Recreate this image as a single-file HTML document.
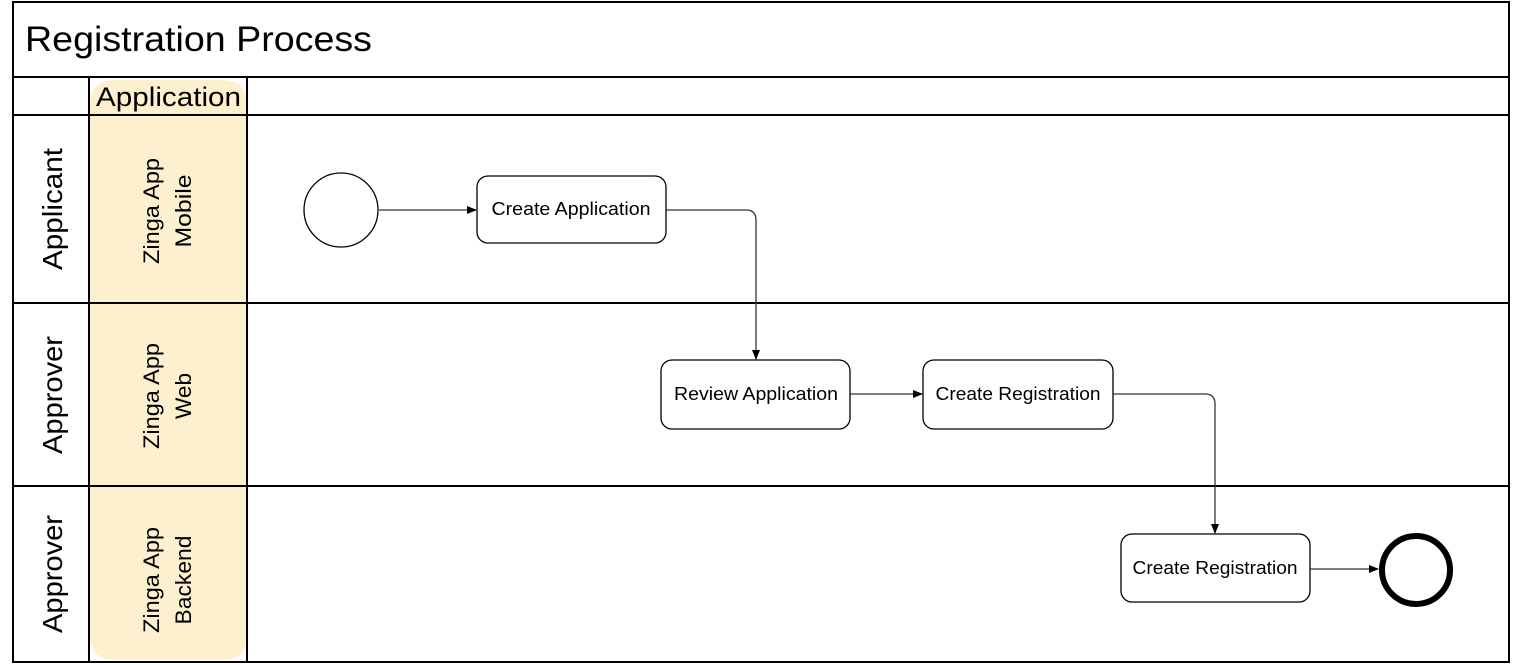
<!DOCTYPE html>
<html><head><style>html,body{margin:0;padding:0;background:#fff;width:1514px;height:665px;overflow:hidden}</style></head>
<body>
<svg width="1514" height="665" viewBox="0 0 1514 665" xmlns="http://www.w3.org/2000/svg" font-family="'Liberation Sans', sans-serif">
<defs><marker id="a" markerWidth="10" markerHeight="10" refX="9" refY="5" orient="auto" markerUnits="userSpaceOnUse"><path d="M0,1 L10,5 L0,9 z" fill="#000"/></marker></defs>
<rect x="0" y="0" width="1514" height="665" fill="#fff"/>
<path d="M90,105 Q90,80 115,80 L222,80 Q247,80 247,105 L247,635 Q247,660 222,660 L115,660 Q90,660 90,635 Z" fill="#fdf0cf"/>
<g stroke="#000" stroke-width="2" fill="none">
<rect x="13" y="2" width="1496" height="660"/>
<line x1="13" y1="77" x2="1509" y2="77"/>
<line x1="13" y1="115" x2="1509" y2="115"/>
<line x1="13" y1="303" x2="1509" y2="303"/>
<line x1="13" y1="486" x2="1509" y2="486"/>
<line x1="89" y1="77" x2="89" y2="662"/>
<line x1="247" y1="77" x2="247" y2="662"/>
</g>
<text x="25" y="51" font-size="35" textLength="347" lengthAdjust="spacingAndGlyphs">Registration Process</text>
<text x="96" y="106" font-size="27" textLength="145" lengthAdjust="spacingAndGlyphs">Application</text>
<g font-size="28" text-anchor="middle">
<text transform="translate(62,209) rotate(-90)" textLength="122" lengthAdjust="spacingAndGlyphs">Applicant</text>
<text transform="translate(62,395) rotate(-90)" textLength="118" lengthAdjust="spacingAndGlyphs">Approver</text>
<text transform="translate(62,574) rotate(-90)" textLength="118" lengthAdjust="spacingAndGlyphs">Approver</text>
</g>
<g font-size="22" text-anchor="middle">
<text transform="translate(159,211) rotate(-90)" textLength="106" lengthAdjust="spacingAndGlyphs">Zinga App</text>
<text transform="translate(191,211) rotate(-90)" textLength="73" lengthAdjust="spacingAndGlyphs">Mobile</text>
<text transform="translate(159,396) rotate(-90)" textLength="106" lengthAdjust="spacingAndGlyphs">Zinga App</text>
<text transform="translate(191,396) rotate(-90)" textLength="46" lengthAdjust="spacingAndGlyphs">Web</text>
<text transform="translate(159,580) rotate(-90)" textLength="106" lengthAdjust="spacingAndGlyphs">Zinga App</text>
<text transform="translate(191,580) rotate(-90)" textLength="89" lengthAdjust="spacingAndGlyphs">Backend</text>
</g>
<g stroke="#000" stroke-width="1.3" fill="#fff">
<circle cx="341" cy="210" r="37"/>
<rect x="477" y="176" width="189" height="67" rx="11"/>
<rect x="661" y="360" width="189" height="69" rx="11"/>
<rect x="923" y="360" width="190" height="69" rx="11"/>
<rect x="1121" y="534" width="189" height="68" rx="11"/>
</g>
<circle cx="1416" cy="570" r="34" fill="#fff" stroke="#000" stroke-width="6"/>
<g stroke="#333" stroke-width="1.3" fill="none" marker-end="url(#a)">
<line x1="379" y1="210" x2="476" y2="210"/>
<path d="M666,210 L746,210 Q756,210 756,220 L756,359"/>
<line x1="850" y1="394" x2="922" y2="394"/>
<path d="M1113,394 L1205,394 Q1215,394 1215,404 L1215,533"/>
<line x1="1310" y1="569" x2="1378" y2="569"/>
</g>
<g font-size="18" text-anchor="middle">
<text x="571" y="215" textLength="159" lengthAdjust="spacingAndGlyphs">Create Application</text>
<text x="756" y="400" textLength="164" lengthAdjust="spacingAndGlyphs">Review Application</text>
<text x="1018" y="400" textLength="165" lengthAdjust="spacingAndGlyphs">Create Registration</text>
<text x="1215" y="574" textLength="165" lengthAdjust="spacingAndGlyphs">Create Registration</text>
</g>
</svg>
</body></html>
